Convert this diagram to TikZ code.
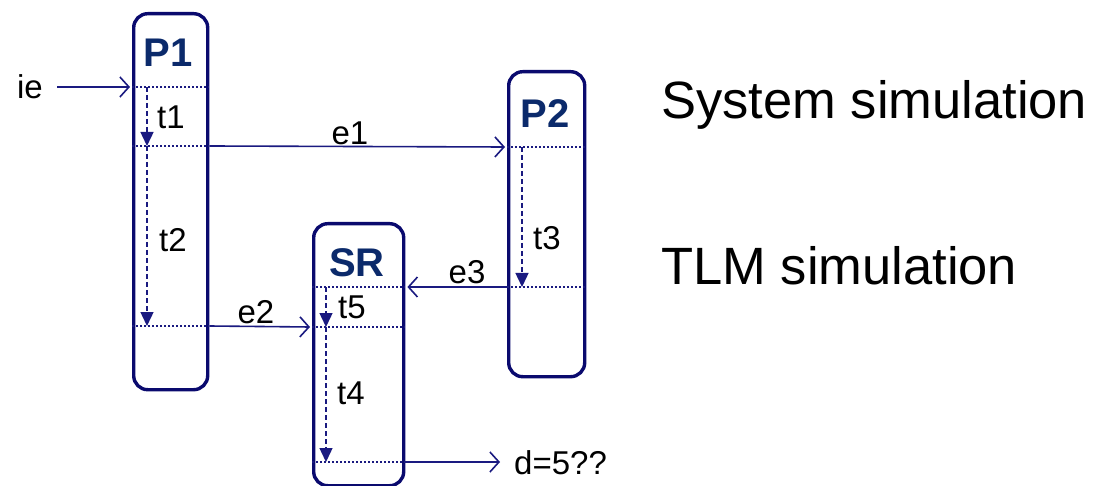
\documentclass[tikz,border=0pt]{standalone}
\usepackage{fontspec}
\setmainfont{Liberation Sans}
\usetikzlibrary{arrows.meta,calc}
\definecolor{boxc}{HTML}{0A0A6E}
\definecolor{titlec}{HTML}{0B2A6B}
\definecolor{arrc}{HTML}{1A1A80}
\tikzset{
  procbox/.style={draw=boxc, line width=3.4pt, rounded corners=14pt, anchor=north west, inner sep=0pt},
  ptitle/.style={text=titlec, font=\fontsize{40}{44}\selectfont\bfseries, inner sep=0pt},
  lbl/.style={font=\fontsize{33}{37}\selectfont, inner sep=0pt, text=black},
  big/.style={font=\fontsize{52.5}{60}\selectfont, inner sep=0pt, anchor=west, text=black},
  dotline/.style={draw=arrc, line width=1.4pt, dash pattern=on 1.6pt off 2.4pt},
  evarrow/.style={draw=arrc, line width=1.6pt, -{Straight Barb[length=9pt,width=20pt,line width=1.6pt]}},
  tarrow/.style={draw=arrc, line width=1.4pt, dash pattern=on 5pt off 3pt, -{Triangle[length=14pt,width=13pt]}},
}
\begin{document}
\begin{tikzpicture}[x=1pt,y=-1pt]
\useasboundingbox (0,0) rectangle (1097,486);
% boxes
\node[procbox, minimum width=74pt, minimum height=376pt] (p1) at (132,12) {};
\node[procbox, minimum width=76pt, minimum height=305pt] (p2) at (507,70) {};
\node[procbox, minimum width=90pt, minimum height=262pt] (sr) at (312,222) {};
% titles
\node[ptitle] (p1t) at (168,53) {P1};
\node[ptitle] (p2t) at (545,114) {P2};
\node[ptitle] (srt) at (357,263) {SR};
% time coordinates
\coordinate (a1) at (147,87);
\coordinate (a2) at (147,146);
\coordinate (a3) at (147,326);
\coordinate (b1) at (522,147);
\coordinate (b2) at (522,287);
\coordinate (c1) at (326,287);
\coordinate (c2) at (326,327);
\coordinate (c3) at (326,462);
% dotted lines
\draw[dotline] (p1.west |- a1) -- (p1.east |- a1);
\draw[dotline] (p1.west |- a2) -- (p1.east |- a2);
\draw[dotline] (p1.west |- a3) -- (p1.east |- a3);
\draw[dotline] (p2.west |- b1) -- (p2.east |- b1);
\draw[dotline] (p2.west |- b2) -- (p2.east |- b2);
\draw[dotline] (sr.west |- c1) -- (sr.east |- c1);
\draw[dotline] (sr.west |- c2) -- (sr.east |- c2);
\draw[dotline] (sr.west |- c3) -- (sr.east |- c3);
% time arrows
\draw[tarrow] (a1) -- (a2);
\draw[tarrow] (a2) -- (a3);
\draw[tarrow] (b1) -- (b2);
\draw[tarrow] (c1) -- (c2);
\draw[tarrow] (c2) -- (c3);
% time labels
\node[lbl] (t1) at (171,117) {t1};
\node[lbl] (t2) at (173,240) {t2};
\node[lbl] (t3) at (547,238) {t3};
\node[lbl] (t5) at (352,307) {t5};
\node[lbl] (t4) at (351,393) {t4};
% events
\node[lbl] (ie) at (30,87) {ie};
\coordinate (ies) at (57,87);
\draw[evarrow] (ies) -- ($(p1.west |- a1)+(-2,0)$);
\draw[evarrow] (p1.east |- a2) -- ($(p2.west |- b1)+(-2,0)$);
\node[lbl] (e1) at (350,133) {e1};
\draw[evarrow] (p1.east |- a3) -- ($(sr.west |- c2)+(-2,0)$);
\node[lbl] (e2) at (256,312) {e2};
\draw[evarrow] (p2.west |- b2) -- ($(sr.east |- c1)+(2,0)$);
\node[lbl] (e3) at (467,272) {e3};
\coordinate (dend) at (500,462);
\draw[evarrow] (sr.east |- c3) -- (dend);
\node[lbl, anchor=west] (d) at (514,463) {d=5??};
% right-side texts
\node[big] (sys) at (661,105) {System simulation};
\node[big] (tlm) at (661,266) {TLM simulation};
\end{tikzpicture}
\end{document}
